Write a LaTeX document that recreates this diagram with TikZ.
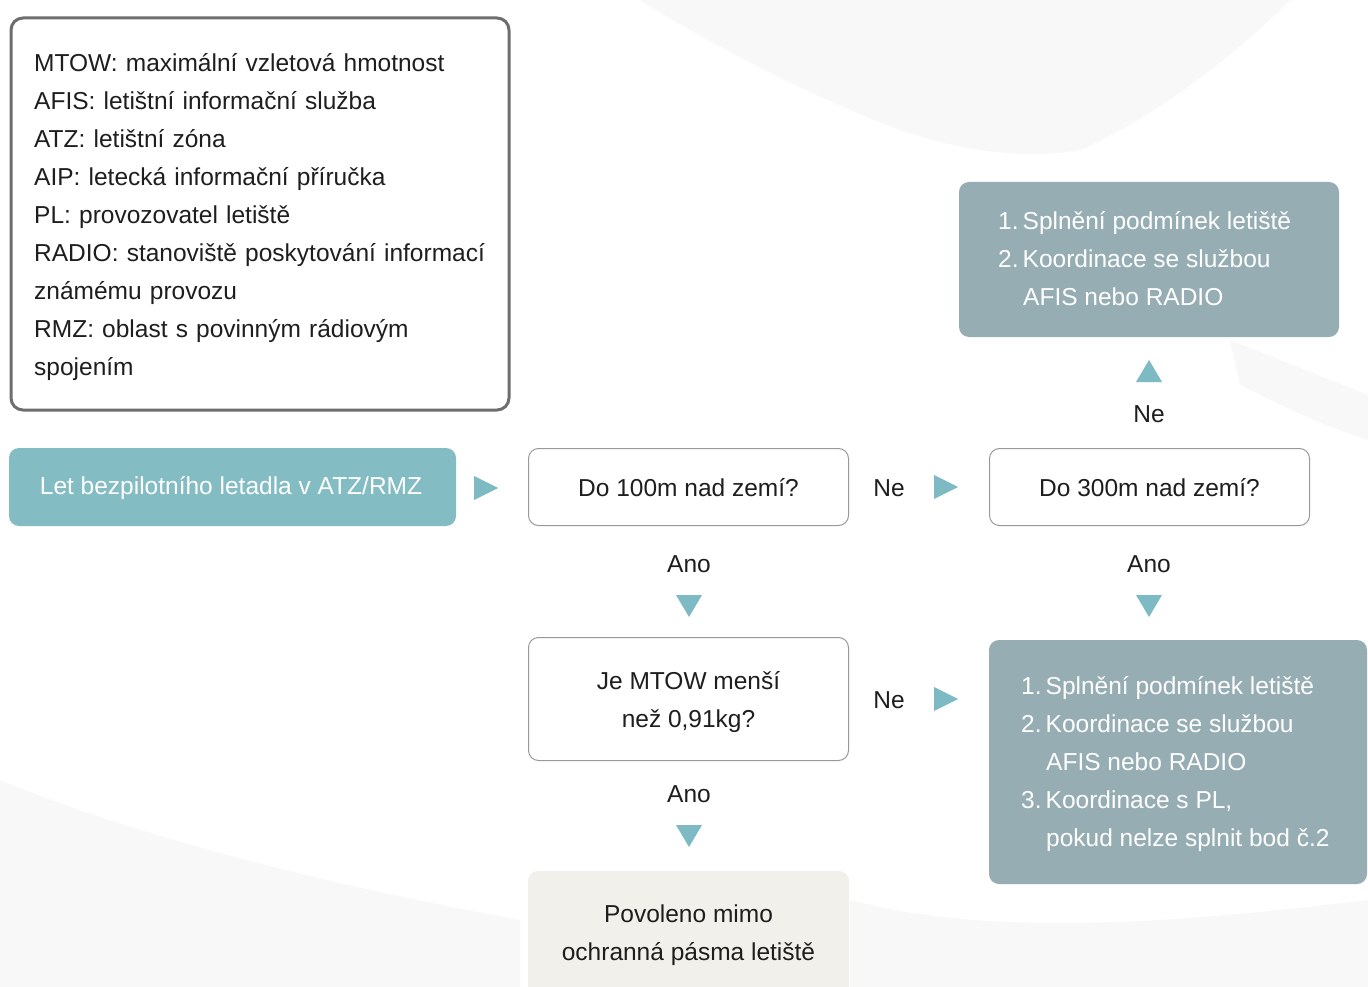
\documentclass[tikz,border=0pt]{standalone}
\usepackage{fontspec}
\setmainfont{Liberation Sans}
\usetikzlibrary{positioning}
\definecolor{teal1}{RGB}{132,188,196}
\definecolor{grayblue}{RGB}{150,173,180}
\definecolor{tri}{RGB}{125,186,196}
\definecolor{cream}{RGB}{242,240,235}
\definecolor{txt}{RGB}{30,30,30}
\definecolor{bord}{RGB}{110,110,110}
\definecolor{ghost}{RGB}{248,248,248}
\tikzset{
  every node/.style={font=\fontsize{24.5}{38}\selectfont, text=txt},
  qbox/.style={draw=bord!70, line width=1pt, fill=white, rounded corners=10pt},
  lbl/.style={inner sep=0pt},
}
\begin{document}
\begin{tikzpicture}[x=1pt,y=-1pt]
\useasboundingbox (0,0) rectangle (1368,987);
\fill[white] (0,0) rectangle (1368,987);
% faint background shapes
\fill[ghost] (640,0) .. controls (720,50) and (820,100) .. (900,130) .. controls (960,150) and (1020,160) .. (1080,150) .. controls (1150,120) and (1230,60) .. (1290,0) -- cycle;
\fill[ghost] (1230,340) .. controls (1280,360) and (1330,380) .. (1368,395) -- (1368,440) .. controls (1320,425) and (1270,400) .. (1240,385) -- cycle;
\fill[ghost] (0,780) .. controls (120,830) and (300,880) .. (520,920) -- (520,987) -- (0,987) -- cycle;
\fill[ghost] (850,900) .. controls (1000,940) and (1200,920) .. (1368,900) -- (1368,987) -- (850,987) -- cycle;
% legend
\draw[bord, line width=3pt, rounded corners=12pt] (11,18) rectangle (509,410);
\node[lbl, anchor=north west, align=left, text width=475pt] (legend) at (34,53) {MTOW: maximální vzletová hmotnost\\
AFIS: letištní informační služba\\
ATZ: letištní zóna\\
AIP: letecká informační příručka\\
PL: provozovatel letiště\\
RADIO: stanoviště poskytování informací\\
známému provozu\\
RMZ: oblast s povinným rádiovým\\
spojením};
% start
\fill[teal1, rounded corners=10pt] (9,448) rectangle (456,526);
\node[lbl, text=white] (start) at (231,488) {Let bezpilotního letadla v ATZ/RMZ};
% q1
\draw[qbox] (528.5,448.5) rectangle (848.5,525.5);
\node[lbl] (q1) at (688.5,488) {Do 100m nad zemí?};
% q2
\draw[qbox] (989.5,448.5) rectangle (1309.5,525.5);
\node[lbl] (q2) at (1149.5,488) {Do 300m nad zemí?};
% q3
\draw[qbox] (528.5,637.5) rectangle (848.5,760.5);
\node[lbl, align=center] (q3) at (688.5,702) {Je MTOW menší\\než 0,91kg?};
% result top right
\fill[grayblue, rounded corners=10pt] (959,182) rectangle (1339,337);
\node[lbl, anchor=north west, align=left, text=white] (r1) at (998,211) {1.\,Splnění podmínek letiště\\2.\,Koordinace se službou\\\hspace*{25pt}AFIS nebo RADIO};
% result bottom right
\fill[grayblue, rounded corners=10pt] (989,640) rectangle (1367,884);
\node[lbl, anchor=north west, align=left, text=white] (r2) at (1021,676) {1.\,Splnění podmínek letiště\\2.\,Koordinace se službou\\\hspace*{25pt}AFIS nebo RADIO\\3.\,Koordinace s PL,\\\hspace*{25pt}pokud nelze splnit bod č.2};
% final
\fill[cream, rounded corners=10pt] (528,871) rectangle (849,1000);
\node[lbl, align=center] (fin) at (688.5,935) {Povoleno mimo\\ochranná pásma letiště};
% labels
\node[lbl] (ne1) at (889,488) {Ne};
\node[lbl] (ne2) at (1149,414) {Ne};
\node[lbl] (ne3) at (889,700) {Ne};
\node[lbl] (ano1) at (689,564) {Ano};
\node[lbl] (ano2) at (1149,564) {Ano};
\node[lbl] (ano3) at (689,794) {Ano};
% triangles
\coordinate (t1) at (486,488);
\coordinate (t2) at (946,487);
\coordinate (t3) at (946,699);
\coordinate (t4) at (1149,371);
\coordinate (t5) at (689,606);
\coordinate (t6) at (1149,606);
\coordinate (t7) at (689,836);
\foreach \c in {t1,t2,t3}{
  \fill[tri] ([shift={(-12,-12)}]\c) -- ([shift={(12,0)}]\c) -- ([shift={(-12,12)}]\c) -- cycle;
}
\fill[tri] ([shift={(-13,11)}]t4) -- ([shift={(0,-11)}]t4) -- ([shift={(13,11)}]t4) -- cycle;
\foreach \c in {t5,t6,t7}{
  \fill[tri] ([shift={(-13,-11)}]\c) -- ([shift={(13,-11)}]\c) -- ([shift={(0,11)}]\c) -- cycle;
}
\end{tikzpicture}
\end{document}
